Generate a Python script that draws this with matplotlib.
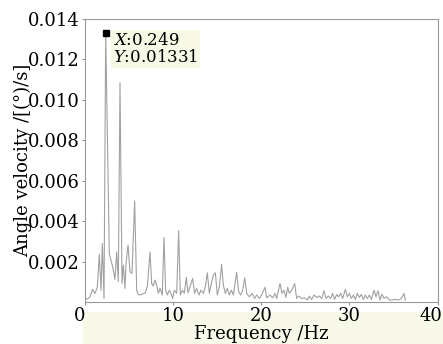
import matplotlib
matplotlib.use("Agg")
import matplotlib.pyplot as plt
from matplotlib.patches import Rectangle
import matplotlib.transforms as mtransforms

# Data (frequency in Hz, amplitude in (deg)/s)
freq = [0.06, 0.32, 0.62, 0.92, 1.19, 1.45, 1.68, 1.87, 2.02, 2.21,
        2.40, 2.81, 2.89, 3.19, 3.45, 3.64, 3.83, 4.02, 4.25, 4.40,
        4.59, 4.70, 4.93, 5.15, 5.38, 5.68, 5.91, 6.06, 6.29, 6.59,
        6.89, 7.12, 7.42, 7.61, 7.80, 7.98, 8.17, 8.36, 8.55, 8.81,
        9.00, 9.19, 9.38, 9.61, 9.80, 9.98, 10.17, 10.44, 10.66, 10.85,
        11.08, 11.31, 11.53, 11.72, 11.95, 12.25, 12.47, 12.70, 12.97, 13.19,
        13.46, 13.68, 13.91, 14.14, 14.36, 14.59, 14.82, 15.04, 15.27, 15.53,
        15.72, 15.95, 16.17, 16.40, 16.63, 16.86, 17.23, 17.46, 17.69, 17.91,
        18.14, 18.37, 18.67, 18.97, 19.27, 19.50, 19.80, 20.06, 20.44, 20.63,
        21.01, 21.31, 21.57, 21.76, 22.14, 22.37, 22.59, 22.82, 23.01, 23.20,
        23.46, 23.80, 24.03, 24.25, 24.59, 24.97, 25.24, 25.46, 25.73, 25.99,
        26.29, 26.59, 26.86, 27.12, 27.35, 27.61, 27.88, 28.10, 28.33, 28.56,
        28.78, 29.01, 29.24, 29.54, 29.77, 29.99, 30.22, 30.45, 30.67, 30.90,
        31.13, 31.35, 31.58, 31.80, 32.03, 32.26, 32.48, 32.79, 33.01, 33.24,
        33.47, 33.69, 33.92, 34.22, 34.53, 34.79, 35.06, 35.36, 35.58, 35.88,
        36.18, 36.33]
amp = [0.00021, 0.00015, 0.00026, 0.00063, 0.00043, 0.00073, 0.00236, 0.00059, 0.00290, 0.00018,
       0.01331, 0.00241, 0.00224, 0.00175, 0.00112, 0.00249, 0.00101, 0.01085, 0.00092, 0.00183,
       0.00068, 0.00191, 0.00282, 0.00150, 0.00142, 0.00500, 0.00059, 0.00040, 0.00035, 0.00040,
       0.00046, 0.00079, 0.00249, 0.00092, 0.00079, 0.00109, 0.00084, 0.00043, 0.00068, 0.00035,
       0.00320, 0.00059, 0.00035, 0.00059, 0.00043, 0.00018, 0.00059, 0.00043, 0.00353, 0.00035,
       0.00059, 0.00043, 0.00122, 0.00046, 0.00076, 0.00117, 0.00043, 0.00068, 0.00035, 0.00059,
       0.00043, 0.00076, 0.00145, 0.00043, 0.00092, 0.00134, 0.00145, 0.00035, 0.00076, 0.00186,
       0.00084, 0.00043, 0.00068, 0.00035, 0.00059, 0.00035, 0.00147, 0.00051, 0.00035, 0.00059,
       0.00120, 0.00043, 0.00026, 0.00043, 0.00018, 0.00035, 0.00018, 0.00035, 0.00073, 0.00021,
       0.00035, 0.00021, 0.00043, 0.00018, 0.00092, 0.00043, 0.00059, 0.00023, 0.00073, 0.00043,
       0.00059, 0.00092, 0.00018, 0.00030, 0.00018, 0.00021, 0.00010, 0.00030, 0.00013, 0.00035,
       0.00023, 0.00030, 0.00018, 0.00056, 0.00018, 0.00030, 0.00018, 0.00043, 0.00013, 0.00038,
       0.00026, 0.00043, 0.00018, 0.00063, 0.00026, 0.00043, 0.00018, 0.00035, 0.00013, 0.00043,
       0.00023, 0.00038, 0.00013, 0.00035, 0.00018, 0.00035, 0.00013, 0.00059, 0.00026, 0.00056,
       0.00010, 0.00040, 0.00018, 0.00026, 0.00010, 0.00010, 0.00013, 0.00013, 0.00010, 0.00018,
       0.00043, 0.00010]

peak_x_label = "0.249"
peak_y_label = "0.01331"
x_ticks = [0, 10, 20, 30, 40]
y_ticks = [0.002, 0.004, 0.006, 0.008, 0.010, 0.012, 0.014]

plt.rcParams['font.family'] = ['DejaVu Serif']
plt.rcParams['mathtext.fontset'] = 'dejavuserif'

fig = plt.figure(figsize=(4.43, 3.44), dpi=100)
fig.patches.append(Rectangle((83/443, 0), 1 - 83/443, 32/344,
                             transform=fig.transFigure, facecolor='#f8f9e8',
                             edgecolor='none', zorder=-5))
ax = fig.add_axes([84.5/443, 1 - 302.1/344, (437.7 - 84.5)/443, (302.1 - 19)/344])
ax.set_facecolor('white')
ax.plot(freq, amp, color='#a3a0a0', lw=0.8)

# data tip marker
ipk = amp.index(max(amp))
ax.plot([freq[ipk]], [amp[ipk]], marker='s', color='black', ms=5, zorder=5)
ax.annotate("$X$:" + peak_x_label + "\n$Y$:" + peak_y_label,
            xy=(freq[ipk], amp[ipk]), xytext=(5, 1), textcoords='offset points',
            ha='left', va='top', fontsize=12, linespacing=1.0,
            bbox=dict(boxstyle='square,pad=0.12', facecolor='#f8f9e4',
                      edgecolor='none'))

ax.set_xlim(0, 40)
ax.set_ylim(0, 0.014)
ax.set_xticks(x_ticks)
ax.set_yticks(y_ticks)
ax.set_xticklabels([str(t) for t in x_ticks])
ax.set_yticklabels([f"{t:.3f}" for t in y_ticks])
ax.tick_params(axis='both', labelsize=13, length=2.5, width=0.6,
               color='#777777', pad=1)
for s in ax.spines.values():
    s.set_color('#999999')
    s.set_linewidth(0.8)

xl = ax.get_xticklabels()
xl[0].set_transform(xl[0].get_transform() +
                    mtransforms.ScaledTranslation(-5/100, 0, fig.dpi_scale_trans))
xl[-1].set_transform(xl[-1].get_transform() +
                     mtransforms.ScaledTranslation(-7/100, 0, fig.dpi_scale_trans))

ax.set_xlabel("Frequency /Hz", fontsize=13, labelpad=0)
ax.set_ylabel("Angle velocity /[(°)/s]", fontsize=13, labelpad=-3)

fig.savefig("out.png", dpi=100)
